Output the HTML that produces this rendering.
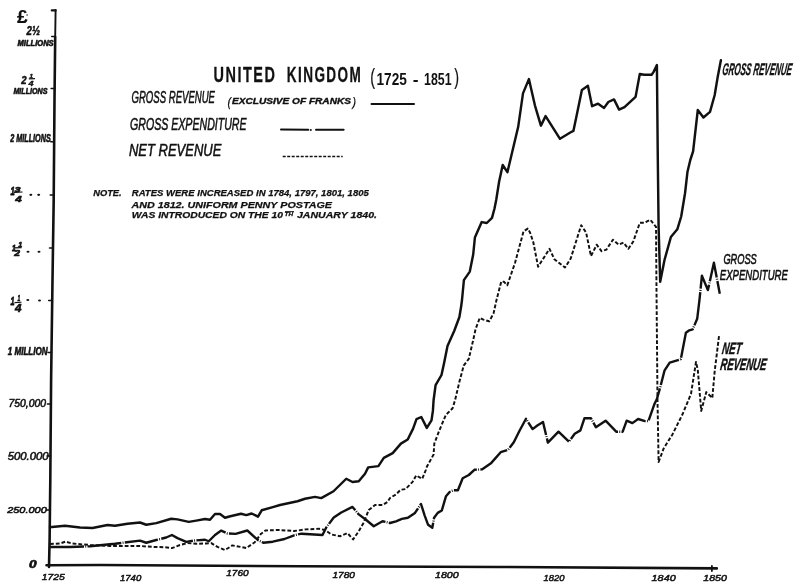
<!DOCTYPE html>
<html><head><meta charset="utf-8"><title>United Kingdom (1725-1851)</title>
<style>
html,body{margin:0;padding:0;background:#fff;}
svg{display:block;}
text{font-family:"Liberation Sans","DejaVu Sans",sans-serif;fill:#111;}
</style></head><body>
<svg width="800" height="587" viewBox="0 0 800 587">
<rect width="800" height="587" fill="#fff"/>
<g fill="none" stroke="#111" stroke-linejoin="round" stroke-linecap="round">
<polyline points="55.2,37 54.5,100 53.7,200 52.5,280 51.1,380 50.3,480 49.6,540 49,567" stroke-width="2.6"/>
<polyline points="55.6,10 55.2,37" stroke-width="1.9"/>
<line x1="51.8" y1="10.4" x2="55.6" y2="10.4" stroke-width="2.2"/>
<polyline points="46.5,565.3 100,565 300,566.3 500,567 716.8,568.4" stroke-width="2.6"/>
<g stroke-width="1.5"><line x1="51.7" y1="36.6" x2="55.2" y2="36.6"/><line x1="51.1" y1="88.6" x2="54.6" y2="88.6"/><line x1="50.7" y1="141.7" x2="54.2" y2="141.7"/><line x1="50.2" y1="195" x2="53.7" y2="195"/><line x1="49.5" y1="248" x2="53.0" y2="248"/><line x1="48.7" y1="300.4" x2="52.2" y2="300.4"/><line x1="48.0" y1="352.4" x2="51.5" y2="352.4"/><line x1="47.4" y1="404" x2="50.9" y2="404"/><line x1="47.0" y1="456" x2="50.5" y2="456"/><line x1="46.5" y1="510" x2="50.0" y2="510"/></g>
<line x1="711.9" y1="566" x2="711.9" y2="571" stroke-width="1.8"/>
<polyline points="50,527 52,527 65,525.75 80,527.5 92.5,528 107.5,525 115,525.75 127.5,523.75 140,522.5 146.25,524.75 156.25,523.1 171.25,518.75 177.5,519.4 188.75,521.9 196.25,520.6 205,519 210,519.75 215,514 220,514 225,517.75 230.3,516.2 241,513.7 246.3,515.1 251.6,513.5 258,516.7 261.7,510.3 272.8,507.1 280,505 297.5,501.25 305,498.75 315,496.9 321.25,498.1 333.5,491.25 346.25,478.75 352.5,482 358.75,481.25 365,473.75 368.2,467.4 378.4,466.1 383.8,457.9 392.7,453.1 400.9,443.6 407.7,439.5 413.1,428.6 416.5,419.1 421.3,417 426.8,427.9 431.5,420.4 432.9,410.9 433.6,400 435.6,385.2 441.5,375 444.1,363 447.5,346 454.3,330.7 459.4,317 461.1,306.8 462,300 463.9,280.1 469.8,271.6 473.2,254.5 474.9,237.5 481.7,222.1 486.8,223 492,217.9 494.5,208.5 496.2,200 499.1,181.7 502.7,165 507.4,172.2 518.2,126.8 523,93.4 528.9,79.1 534.9,105.3 540.9,125.6 545.6,116.1 560,138.8 570.3,132.5 573.4,130.9 576.8,114.7 581.9,90 587.9,85.8 592.1,106.2 598.1,103.7 604.1,107.9 608.3,102 614,99.4 619.1,109.6 624.5,107.1 635.6,96.8 639.8,73.9 644.1,74.7 651.8,74.7 653.75,71.6 656.9,65 657.7,150 658.6,226.7 660.2,281.7 664.5,260 670.9,237 677.3,229.3 681.2,216.5 685,193.5 687.5,171.7 690.3,160 693.1,151.3 697.8,110 703.4,117.5 710,111.9 714.7,95 717.5,78.1 720.9,60.3" stroke-width="2.45"/>
<polyline points="50,547 70,547 90,546.25 115,543.75 140,540.6 146.25,542.75 156.25,540 166.25,537.5 171.9,535 177.5,538.1 186.25,541.9 193.75,540.6 205,539.75 208.75,541.25 215,535 221.25,530.6 227.5,533.5 235.6,533.9 247.3,530.5 258,540.1 263.3,542.7 272.8,541.7 284.5,539 294.1,535.3 301.5,533.7 310,534.2 322.5,535 326.25,527.5 333.75,517.5 341.25,512.5 352.5,506.9 358.75,514.4 366.25,520 373.75,526.25 382.5,521.25 390,523 396,521.3 401.9,518.9 407.9,517.7 415,512.9 421,504 424.6,515.3 428.1,524.8 432.3,527.8 434.1,517.7 437.7,512.9 441.8,510.5 446,496.2 449.6,492 453.2,490.3 457.9,490.3 462.7,478.3 468.8,475 474.4,469.8 481.9,469.4 491.3,462.9 500.7,452.2 508.2,449.7 513.8,442.2 519.4,431 526,418.8 532.6,429.1 537.3,425.5 543,422 547.9,442.6 558.5,431.7 569,441.8 574.7,433.7 580.4,430.4 584.5,418.2 591,418.2 595.9,427.2 605.6,420.7 616.2,431.7 622.7,431.7 626.7,420.7 632.4,423.1 638.1,419 645,421.1 648.4,421.1 654.4,404.1 656.9,399 660.3,387 664.6,370.3 669.7,362.6 680.8,359.2 685.9,332.8 689.3,330.3 692.7,329.4 697.2,318.8 699.5,299.7 701.9,275.8 707.9,290.1 713.9,262.7 719.8,293.7" stroke-width="2.4" stroke-dasharray="34 1.3 0.9 1.3" stroke-linecap="butt"/>
<polyline points="50,544 60,543.5 65.6,541.6 72,543.5 90,545 110,546 140,546 152.5,546.9 165,547.25 171.9,548.1 180,545 187.5,543.1 196.25,543.75 206.25,543.5 211.25,543.1 217.5,546.9 225,550 232.4,545.4 246.3,548 254.8,542.2 261.1,533.7 265.4,530.5 278.1,530 294.1,531 305.8,529.4 318.75,528.75 325,530 331.25,534.4 340,536.25 347.5,533.1 353.1,539.4 358.75,531.25 363.75,522.5 368.75,510 375,505 382.5,505 387.5,501.9 390,498 396,494.4 400.7,489.7 405.5,489.1 412.6,481.9 416.2,475.4 422.2,478.9 425.8,470 426.8,466.8 433.6,454.5 434.3,443.6 439,431.3 445.8,415 452.6,408.2 455.1,400 459.4,381.8 463.7,365.6 468.8,358.8 473,340.9 475.6,329 479.8,317.9 483.3,319.6 489.2,321.3 493.5,313.6 496.5,300 501.3,281.4 503.9,281.8 507.3,285.2 515,263 523.5,231.5 527.7,228.6 530,232.5 533.3,242.3 538.1,266.7 549.5,248.8 554.4,259.3 565,267.5 570.7,258.5 581.2,225.2 586.1,232.5 591,256.1 596.7,244.7 601.5,251.2 606.4,249.6 612.9,239.8 618.6,244.7 623.5,242.6 628.4,248.8 633.3,241.5 639.8,222.8 644.6,222.8 650.3,219.8 656,226.8 656.5,290 657.5,400 658.6,462 663.7,448.4 672.3,434.7 682.5,414.3 691,393.9 696,362 697.8,370 701.2,410.9 706.3,392.1 712.3,398.1 714.8,370 719.1,335.4" stroke-width="1.95" stroke-dasharray="3.8 2" stroke-linecap="butt"/>
<line x1="371.5" y1="104" x2="414" y2="104" stroke-width="2"/>
<polyline points="281,129.6 308.3,129.7" stroke-width="2"/>
<circle cx="310.8" cy="130" r="1" fill="#111" stroke="none"/>
<polyline points="316,129.8 343.6,129.8" stroke-width="2"/>
<polyline points="282.7,156.5 342.7,156.5" stroke-width="1.6" stroke-dasharray="3 1.5" stroke-linecap="butt"/>
</g>
<g fill="#111"><ellipse cx="30.8" cy="194.8" rx="1.5" ry="1.1"/><ellipse cx="38.7" cy="194.8" rx="1.5" ry="1.1"/><ellipse cx="28" cy="251.75" rx="1.5" ry="1.1"/><ellipse cx="39" cy="251.75" rx="1.5" ry="1.1"/><ellipse cx="27.8" cy="300" rx="1.5" ry="1.1"/><ellipse cx="39.5" cy="300.5" rx="1.5" ry="1.1"/></g>
<g stroke="#111" stroke-width="1.1" fill="none">
<line x1="28.8" y1="78.9" x2="35" y2="78.6"/>
<circle cx="27.1" cy="15" r="0.7" fill="#111" stroke="none"/>
<line x1="14" y1="192.4" x2="22.5" y2="192"/>
<line x1="14.5" y1="247.9" x2="21.5" y2="247.6"/>
<line x1="14.5" y1="302.6" x2="21.5" y2="302.2"/>
<line x1="285" y1="211.6" x2="294" y2="211.6" stroke-width="0.9"/>
</g>
<text transform="translate(213.5,82.3) scale(0.64,1)" x="0" y="0" font-size="22.6" textLength="96.09" lengthAdjust="spacing" style="font-weight:bold;stroke:#111;stroke-width:0.3px;stroke-linejoin:round" >UNITED</text>
<text transform="translate(286.8,82.4) scale(0.6,1)" x="0" y="0" font-size="22.6" textLength="123.33" lengthAdjust="spacing" style="font-weight:bold;stroke:#111;stroke-width:0.3px;stroke-linejoin:round" >KINGDOM</text>
<text x="370.3" y="83.9" font-size="22" textLength="4.8" lengthAdjust="spacingAndGlyphs" style=";stroke:#111;stroke-width:0.2px;stroke-linejoin:round" >(</text>
<text x="376.5" y="84.8" font-size="16" textLength="30.3" lengthAdjust="spacingAndGlyphs" style="font-weight:bold" >1725</text>
<text x="412.8" y="84.8" font-size="16" textLength="5.8" lengthAdjust="spacingAndGlyphs" style="font-weight:bold" >-</text>
<text x="424" y="84.8" font-size="16" textLength="27.5" lengthAdjust="spacingAndGlyphs" style="font-weight:bold" >1851</text>
<text x="454.2" y="83.9" font-size="22" textLength="4.8" lengthAdjust="spacingAndGlyphs" style=";stroke:#111;stroke-width:0.2px;stroke-linejoin:round" >)</text>
<text x="131.5" y="102.9" font-size="16.5" textLength="83.5" lengthAdjust="spacingAndGlyphs" style="font-style:italic;stroke:#111;stroke-width:0.55px;stroke-linejoin:round" >GROSS REVENUE</text>
<text x="227.5" y="105.6" font-size="12.8" textLength="3.5" lengthAdjust="spacingAndGlyphs" style="font-style:italic;stroke:#111;stroke-width:0.25px;stroke-linejoin:round" >(</text>
<text x="232" y="104.3" font-size="8.2" textLength="119" lengthAdjust="spacingAndGlyphs" style="font-weight:bold;font-style:italic;stroke:#111;stroke-width:0.35px;stroke-linejoin:round" >EXCLUSIVE OF FRANKS</text>
<text x="352.5" y="105.6" font-size="12.8" textLength="3.5" lengthAdjust="spacingAndGlyphs" style="font-style:italic;stroke:#111;stroke-width:0.25px;stroke-linejoin:round" >)</text>
<text x="130" y="130" font-size="16.5" textLength="116.6" lengthAdjust="spacingAndGlyphs" style="font-style:italic;stroke:#111;stroke-width:0.55px;stroke-linejoin:round" >GROSS EXPENDITURE</text>
<text x="129" y="155.6" font-size="17" textLength="92.3" lengthAdjust="spacingAndGlyphs" style="font-style:italic;stroke:#111;stroke-width:0.55px;stroke-linejoin:round" >NET REVENUE</text>
<text x="93.2" y="196.3" font-size="9" textLength="28.5" lengthAdjust="spacingAndGlyphs" style="font-weight:bold;font-style:italic;stroke:#111;stroke-width:0.25px;stroke-linejoin:round" >NOTE.</text>
<text x="131.8" y="196.4" font-size="9" textLength="237" lengthAdjust="spacingAndGlyphs" style="font-weight:bold;font-style:italic;stroke:#111;stroke-width:0.25px;stroke-linejoin:round" >RATES WERE INCREASED IN 1784, 1797, 1801, 1805</text>
<text x="131.5" y="207.8" font-size="9" textLength="200.4" lengthAdjust="spacingAndGlyphs" style="font-weight:bold;font-style:italic;stroke:#111;stroke-width:0.25px;stroke-linejoin:round" >AND 1812. UNIFORM PENNY POSTAGE</text>
<text x="131.8" y="218" font-size="9" textLength="151.2" lengthAdjust="spacingAndGlyphs" style="font-weight:bold;font-style:italic;stroke:#111;stroke-width:0.25px;stroke-linejoin:round" >WAS INTRODUCED ON THE 10</text>
<text x="284.5" y="216.2" font-size="6" textLength="8.5" lengthAdjust="spacingAndGlyphs" style="font-weight:bold;font-style:italic;stroke:#111;stroke-width:0.3px;stroke-linejoin:round" >TH</text>
<text x="297" y="218.2" font-size="9" textLength="80" lengthAdjust="spacingAndGlyphs" style="font-weight:bold;font-style:italic;stroke:#111;stroke-width:0.25px;stroke-linejoin:round" >JANUARY 1840.</text>
<text transform="translate(721.8,75.2) skewX(-8)" x="0" y="0" font-size="17" textLength="69.5" lengthAdjust="spacingAndGlyphs" style="font-weight:bold;font-style:italic;stroke:#111;stroke-width:0.35px;stroke-linejoin:round" >GROSS REVENUE</text>
<text x="723.4" y="263.7" font-size="14" textLength="33.4" lengthAdjust="spacingAndGlyphs" style="font-style:italic;stroke:#111;stroke-width:0.6px;stroke-linejoin:round" >GROSS</text>
<text x="719.8" y="280.2" font-size="15" textLength="68.1" lengthAdjust="spacingAndGlyphs" style="font-style:italic;stroke:#111;stroke-width:0.6px;stroke-linejoin:round" >EXPENDITURE</text>
<text transform="translate(721.5,353.6) skewX(-8)" x="0" y="0" font-size="16.5" textLength="19.5" lengthAdjust="spacingAndGlyphs" style="font-weight:bold;font-style:italic;stroke:#111;stroke-width:0.45px;stroke-linejoin:round" >NET</text>
<text transform="translate(719.8,370.4) skewX(-8)" x="0" y="0" font-size="16.5" textLength="46" lengthAdjust="spacingAndGlyphs" style="font-weight:bold;font-style:italic;stroke:#111;stroke-width:0.45px;stroke-linejoin:round" >REVENUE</text>
<text x="17" y="22.6" font-size="18" textLength="10.5" lengthAdjust="spacingAndGlyphs" style="font-weight:bold;stroke:#111;stroke-width:0.2px;stroke-linejoin:round" >£</text>
<text x="26.5" y="34.8" font-size="12" textLength="13.5" lengthAdjust="spacingAndGlyphs" style="font-weight:bold;font-style:italic;stroke:#111;stroke-width:0.5px;stroke-linejoin:round" >2½</text>
<text x="17.6" y="46.2" font-size="8.5" textLength="36" lengthAdjust="spacingAndGlyphs" style="font-weight:bold;font-style:italic;stroke:#111;stroke-width:0.6px;stroke-linejoin:round" >MILLIONS</text>
<text x="21.3" y="84.2" font-size="10.5" textLength="5.3" lengthAdjust="spacingAndGlyphs" style="font-weight:bold;font-style:italic;stroke:#111;stroke-width:0.5px;stroke-linejoin:round" >2</text>
<text x="29.5" y="78.4" font-size="5.5" textLength="3.5" lengthAdjust="spacingAndGlyphs" style="font-weight:bold;font-style:italic;stroke:#111;stroke-width:0.4px;stroke-linejoin:round" >1</text>
<text x="28.5" y="86.3" font-size="8" textLength="5" lengthAdjust="spacingAndGlyphs" style="font-weight:bold;font-style:italic;stroke:#111;stroke-width:0.4px;stroke-linejoin:round" >4</text>
<text x="13.4" y="94.1" font-size="9" textLength="34" lengthAdjust="spacingAndGlyphs" style="font-weight:bold;font-style:italic;stroke:#111;stroke-width:0.6px;stroke-linejoin:round" >MILLIONS</text>
<text x="10.2" y="141.7" font-size="10.5" textLength="40.5" lengthAdjust="spacingAndGlyphs" style="font-weight:bold;font-style:italic;stroke:#111;stroke-width:0.6px;stroke-linejoin:round" >2 MILLIONS</text>
<text x="10.5" y="194.6" font-size="10.5" textLength="4.2" lengthAdjust="spacingAndGlyphs" style="font-weight:bold;font-style:italic;stroke:#111;stroke-width:0.8px;stroke-linejoin:round" >1</text>
<text x="14.4" y="191.8" font-size="7.5" textLength="6" lengthAdjust="spacingAndGlyphs" style="font-weight:bold;font-style:italic;stroke:#111;stroke-width:0.6px;stroke-linejoin:round" >3</text>
<text x="15.2" y="202.3" font-size="9.5" textLength="6.5" lengthAdjust="spacingAndGlyphs" style="font-weight:bold;font-style:italic;stroke:#111;stroke-width:0.6px;stroke-linejoin:round" >4</text>
<text x="12" y="250.6" font-size="9" textLength="3.8" lengthAdjust="spacingAndGlyphs" style="font-weight:bold;font-style:italic;stroke:#111;stroke-width:0.8px;stroke-linejoin:round" >1</text>
<text x="18.3" y="246.8" font-size="7" textLength="4" lengthAdjust="spacingAndGlyphs" style="font-weight:bold;font-style:italic;stroke:#111;stroke-width:0.6px;stroke-linejoin:round" >1</text>
<text x="14.3" y="255.5" font-size="8.5" textLength="5.7" lengthAdjust="spacingAndGlyphs" style="font-weight:bold;font-style:italic;stroke:#111;stroke-width:0.7px;stroke-linejoin:round" >2</text>
<text x="10.5" y="304.6" font-size="10" textLength="4" lengthAdjust="spacingAndGlyphs" style="font-weight:bold;font-style:italic;stroke:#111;stroke-width:0.8px;stroke-linejoin:round" >1</text>
<text x="17.4" y="301" font-size="8.5" textLength="2.8" lengthAdjust="spacingAndGlyphs" style="font-weight:bold;font-style:italic;stroke:#111;stroke-width:0.6px;stroke-linejoin:round" >1</text>
<text x="15" y="311.5" font-size="10.5" textLength="6.5" lengthAdjust="spacingAndGlyphs" style="font-weight:bold;font-style:italic;stroke:#111;stroke-width:0.6px;stroke-linejoin:round" >4</text>
<text x="7.7" y="355" font-size="10.5" textLength="40" lengthAdjust="spacingAndGlyphs" style="font-weight:bold;font-style:italic;stroke:#111;stroke-width:0.6px;stroke-linejoin:round" >1 MILLION</text>
<text x="8.5" y="407.3" font-size="10.8" textLength="37.5" lengthAdjust="spacingAndGlyphs" style="font-style:italic;stroke:#111;stroke-width:0.55px;stroke-linejoin:round" >750,000</text>
<text x="7.7" y="460" font-size="10.8" textLength="40.9" lengthAdjust="spacingAndGlyphs" style="font-style:italic;stroke:#111;stroke-width:0.55px;stroke-linejoin:round" >500.000</text>
<text x="7.2" y="513.4" font-size="9.8" textLength="39.6" lengthAdjust="spacingAndGlyphs" style="font-style:italic;stroke:#111;stroke-width:0.6px;stroke-linejoin:round" >250.000</text>
<text x="29" y="568.4" font-size="10.5" textLength="7.6" lengthAdjust="spacingAndGlyphs" style="font-weight:bold;font-style:italic;stroke:#111;stroke-width:0.6px;stroke-linejoin:round" >0</text>
<text x="41.7" y="580.4" font-size="9" textLength="23" lengthAdjust="spacingAndGlyphs" style="font-style:italic;stroke:#111;stroke-width:0.5px;stroke-linejoin:round" >1725</text>
<text x="120" y="581.25" font-size="8.8" textLength="21.25" lengthAdjust="spacingAndGlyphs" style="font-style:italic;stroke:#111;stroke-width:0.5px;stroke-linejoin:round" >1740</text>
<text x="226.25" y="576.25" font-size="9.3" textLength="22.5" lengthAdjust="spacingAndGlyphs" style="font-style:italic;stroke:#111;stroke-width:0.5px;stroke-linejoin:round" >1760</text>
<text x="332.5" y="578" font-size="9.3" textLength="22.5" lengthAdjust="spacingAndGlyphs" style="font-style:italic;stroke:#111;stroke-width:0.5px;stroke-linejoin:round" >1780</text>
<text x="435" y="578" font-size="9.3" textLength="23.75" lengthAdjust="spacingAndGlyphs" style="font-style:italic;stroke:#111;stroke-width:0.5px;stroke-linejoin:round" >1800</text>
<text x="543.5" y="580.5" font-size="9.3" textLength="21" lengthAdjust="spacingAndGlyphs" style="font-style:italic;stroke:#111;stroke-width:0.5px;stroke-linejoin:round" >1820</text>
<text x="651.6" y="581.4" font-size="9.3" textLength="24.1" lengthAdjust="spacingAndGlyphs" style="font-style:italic;stroke:#111;stroke-width:0.5px;stroke-linejoin:round" >1840</text>
<text x="703.3" y="580.8" font-size="9" textLength="23.6" lengthAdjust="spacingAndGlyphs" style="font-style:italic;stroke:#111;stroke-width:0.5px;stroke-linejoin:round" >1850</text>
</svg>
</body></html>
